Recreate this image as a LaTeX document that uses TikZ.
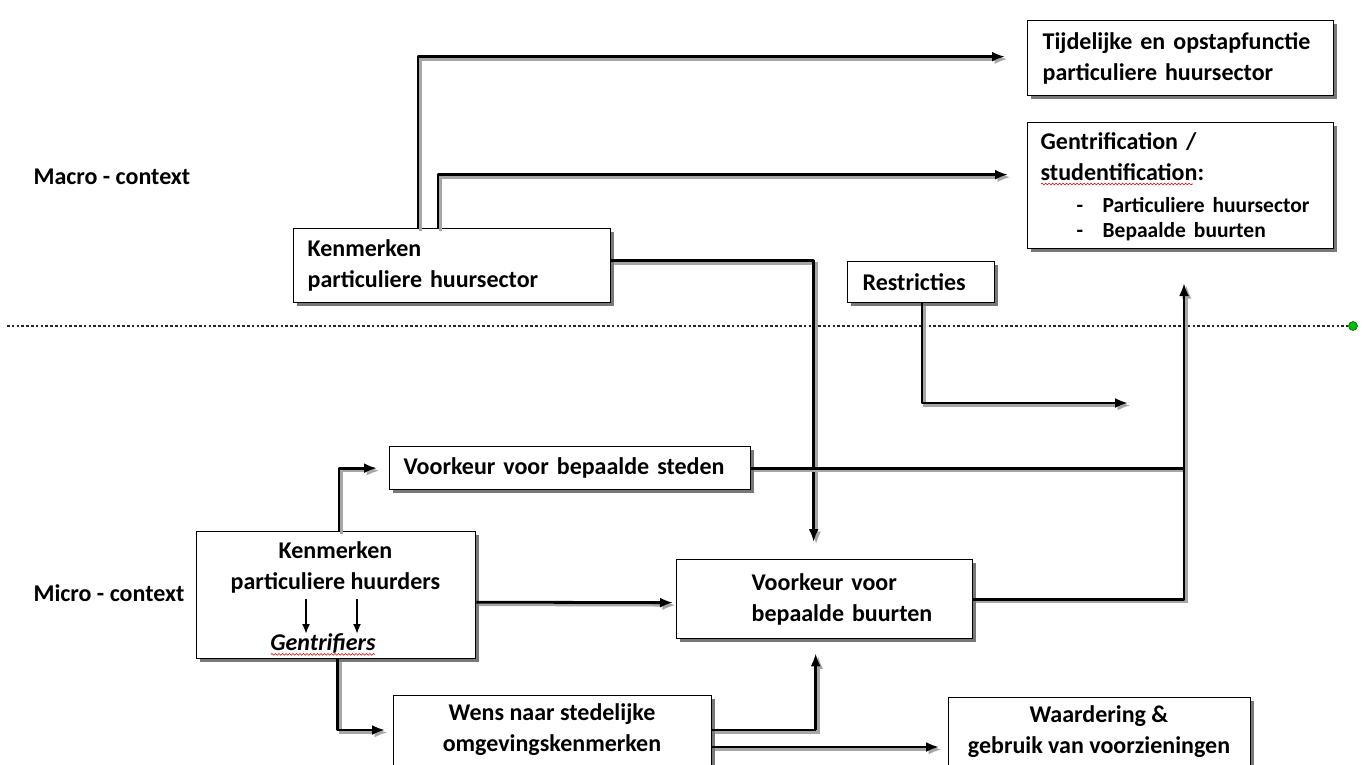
\documentclass[tikz,border=0pt]{standalone}
\usepackage{fontspec}
\setmainfont{Carlito}
\usetikzlibrary{arrows.meta,calc,shadows,decorations.pathmorphing}
\begin{document}
\begin{tikzpicture}[x=1pt,y=-1pt,
  every node/.style={font=\fontsize{24}{31}\selectfont\bfseries},
  box/.style={draw=black, line width=1.3pt, fill=white, anchor=north west,
    inner ysep=2pt, inner xsep=14pt,
    drop shadow={shadow xshift=3.5pt, shadow yshift=-3.5pt, fill=black!70, opacity=0.75}},
  conn/.style={line width=2.8pt, draw=black, line join=round,
    preaction={draw=black!35, line width=2.8pt, transform canvas={shift={(2.5pt,-2.5pt)}}}},
  tip/.style={-{Latex[length=13pt,width=10pt]}},
  small/.style={line width=1.9pt, -{Latex[length=10pt,width=8pt]}},
  dotline/.style={draw=black!85, line width=2.6pt, dash pattern=on 2.6pt off 2.2pt},
  greendot/.style={circle, fill=green!75!black, draw=green!40!black, line width=0.6pt, minimum size=9pt, inner sep=0pt},
  squiggle/.style={draw=red!85!black, line width=0.6pt, decorate,
    decoration={snake, segment length=3.5pt, amplitude=0.9pt}},
  lbl/.style={anchor=west},
]
\fill[white] (0,0) rectangle (1369,765);
\useasboundingbox (0,0) rectangle (1369,765);
\clip (0,0) rectangle (1369,765);

% context labels
\node[lbl] (macro) at (30,177) {Macro - context};
\node[lbl] (micro) at (30,593) {Micro - context};

% separator
\node[greendot] (gdot) at (1353,326) {};
\coordinate (dstart) at (7,326);
\draw[dotline] (dstart) -- (gdot.west);

% boxes
\node[box, text width=276pt, inner xsep=15pt, minimum height=75pt, align=left] (tij) at (1027,20)
  {Tijdelijke en opstapfunctie\\particuliere huursector};
\node[box, text width=280pt, inner xsep=13pt, minimum height=126pt, align=left] (gen) at (1027,122)
  {\rule{0pt}{20pt}Gentrification /\\studentification:\\[1pt]
   {\fontsize{21.5}{26}\selectfont\makebox[62pt][l]{\hspace*{36pt}-}Particuliere huursector}\\[-6pt]
   {\fontsize{21.5}{26}\selectfont\makebox[62pt][l]{\hspace*{36pt}-}Bepaalde buurten}};
\node[box, text width=289pt, minimum height=74pt, align=left] (kh) at (293,228)
  {Kenmerken\\particuliere huursector};
\node[box, text width=117pt, inner xsep=15pt, minimum height=41pt, align=left] (res) at (847,261)
  {Restricties};
\node[box, text width=333pt, minimum height=43pt, align=left] (vs) at (389,446)
  {Voorkeur voor bepaalde steden};
\node[box, minimum width=279pt, minimum height=127pt, inner sep=0pt] (ks) at (196,531) {};
\node[align=center] (kst) at (335.5,567) {Kenmerken\\particuliere huurders};
\node[font=\fontsize{24}{31}\selectfont\bfseries\itshape] (gent) at (323,643) {Gentrifiers};
\node[box, text width=268pt, minimum height=79pt, align=left] (vb) at (676,559)
  {\hspace*{61pt}Voorkeur voor\\\hspace*{61pt}bepaalde buurten};
\node[box, minimum width=318pt, minimum height=110pt, inner sep=0pt] (wens) at (393,695) {};
\node[align=center] (wenst) at (552,730) {Wens naar stedelijke\\omgevingskenmerken};
\node[box, minimum width=302pt, minimum height=110pt, inner sep=0pt] (waar) at (948,697) {};
\node[align=center] (waart) at (1099,732) {Waardering \&\\gebruik van voorzieningen};

% squiggles
\coordinate (sq1a) at (1041,184);
\coordinate (sq1b) at (1193,184);
\draw[squiggle] (sq1a) -- (sq1b);
\draw[squiggle] ($(gent.south west)+(4,-2)$) -- ($(gent.south east)+(-4,-2)$);

% small arrows inside huurders box
\coordinate (s1a) at (306,599); \coordinate (s1b) at (306,634);
\coordinate (s2a) at (357,599); \coordinate (s2b) at (357,634);
\draw[small] (s1a) -- (s1b);
\draw[small] (s2a) -- (s2b);

% free ends
\coordinate (rend) at (1128,403);
\coordinate (upend) at (1184,283);

% connectors
\draw[conn,tip] ($(kh.north west)+(125,0)$) |- ($(tij.west)+(-22,-1.5)$);
\draw[conn,tip] ($(kh.north west)+(145,0)$) |- ($(gen.west)+(-19,-11)$);
\draw[conn,tip] ($(kh.east)+(0,-5)$) -| ($(vb.north)+(-11,-17)$);
\draw[conn,tip] ($(res.south west)+(75,0)$) |- (rend);
\draw[conn,tip] ($(ks.north west)+(143,0)$) |- ($(vs.west)+(-12,0)$);
\draw[conn,tip] ($(ks.east)+(0,7)$) -- ($(vb.west)+(-3,3.5)$);
\draw[conn,tip] ($(ks.south)+(1.5,0)$) |- ($(wens.north west)+(-8,35)$);
\draw[conn] (vs.east) -- (vs.east -| upend);
\draw[conn,tip] (vb.east) -| (upend);
\draw[conn,tip] ($(wens.north east)+(0,35)$) -| ($(vb.south)+(-9,14)$);
\draw[conn,tip] ($(wens.north east)+(0,52)$) -- ($(waar.north west)+(-9,50)$);
\end{tikzpicture}
\end{document}
